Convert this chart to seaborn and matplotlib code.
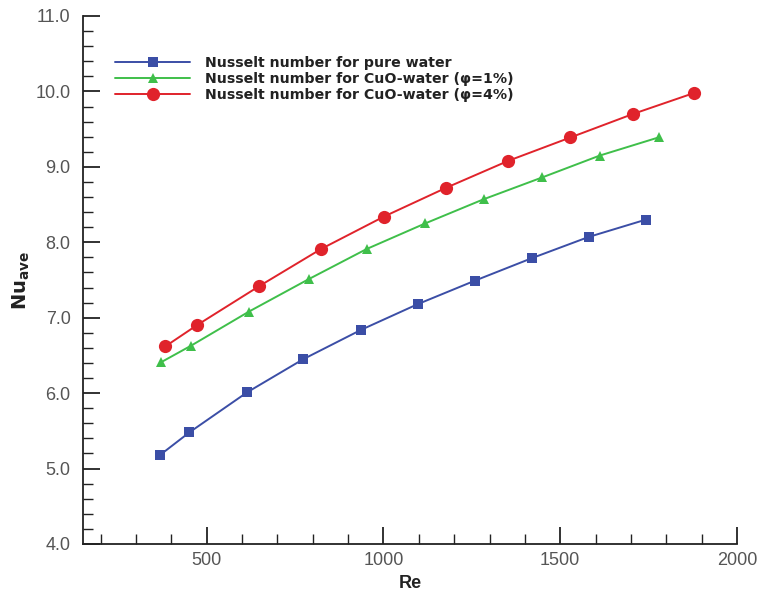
import matplotlib
matplotlib.use('Agg')
import matplotlib.pyplot as plt
from matplotlib.ticker import MultipleLocator, FormatStrFormatter
import seaborn as sns
import numpy as np
import pandas as pd

# values
re_water = [368, 451, 614, 773, 937, 1097, 1258, 1420, 1580, 1742]
nu_water = [5.18, 5.48, 6.01, 6.45, 6.84, 7.18, 7.49, 7.79, 8.07, 8.30]

re_cuo1 = [371, 456, 619, 788, 952, 1118, 1283, 1449, 1612, 1778]
nu_cuo1 = [6.41, 6.63, 7.08, 7.51, 7.91, 8.25, 8.57, 8.86, 9.15, 9.39]

re_cuo4 = [383, 472, 649, 823, 1001, 1176, 1353, 1529, 1705, 1879]
nu_cuo4 = [6.62, 6.90, 7.42, 7.91, 8.34, 8.72, 9.08, 9.39, 9.70, 9.98]

labels = ['Nusselt number for pure water',
          'Nusselt number for CuO-water (\u03c6=1%)',
          'Nusselt number for CuO-water (\u03c6=4%)']

sns.set_style('ticks')
plt.rcParams['font.family'] = ['Liberation Sans', 'DejaVu Sans']

fig = plt.figure(figsize=(7.58, 5.97), dpi=100)
ax = fig.add_axes([0.1095, 0.0888, 0.8628, 0.8844])

sns.lineplot(x=re_water, y=nu_water, ax=ax, color='#3b4ea6', marker='s',
             markersize=7.5, markeredgewidth=0, lw=1.4, label=labels[0])
sns.lineplot(x=re_cuo1, y=nu_cuo1, ax=ax, color='#3fbf4a', marker='^',
             markersize=7, markeredgewidth=0, lw=1.4, label=labels[1])
sns.lineplot(x=re_cuo4, y=nu_cuo4, ax=ax, color='#e0232b', marker='o',
             markersize=9.5, markeredgewidth=0, lw=1.4, label=labels[2])

ax.set_xlim(150, 2000)
ax.set_ylim(4.0, 11.0)
ax.xaxis.set_major_locator(MultipleLocator(500))
ax.xaxis.set_minor_locator(MultipleLocator(100))
ax.yaxis.set_major_locator(MultipleLocator(1.0))
ax.yaxis.set_minor_locator(MultipleLocator(0.2))
ax.yaxis.set_major_formatter(FormatStrFormatter('%.1f'))

ax.tick_params(which='major', direction='in', length=12, width=1.3,
               labelsize=13, labelcolor='#555555', color='#222222', pad=9)
ax.tick_params(which='minor', direction='in', length=7, width=1.0, color='#222222')
ax.tick_params(axis='x', which='major', pad=6)

sns.despine(ax=ax)
for s in ['left', 'bottom']:
    ax.spines[s].set_linewidth(1.3)
    ax.spines[s].set_color('#222222')

ax.set_xlabel('Re', fontsize=13, fontweight='bold', color='#222222', labelpad=4)
ax.set_ylabel(r'$\mathbf{Nu_{ave}}$', fontsize=14, color='#222222')
ax.yaxis.set_label_coords(-0.078, 0.5)

leg = ax.legend(loc='upper left', bbox_to_anchor=(0.03, 0.948), frameon=False,
                handlelength=5.3, handletextpad=1.0, labelspacing=0.15,
                prop={'family': 'DejaVu Sans', 'weight': 'bold', 'size': 10.2})
for t in leg.get_texts():
    t.set_color('#222222')

plt.savefig('out.png', dpi=100)
plt.close()
